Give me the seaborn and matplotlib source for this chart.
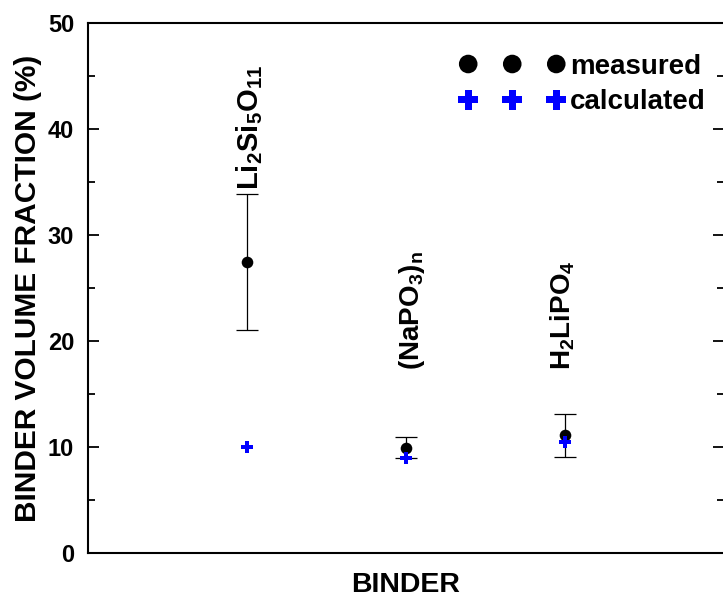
import numpy as np
import pandas as pd
import matplotlib
matplotlib.use("Agg")
import matplotlib.pyplot as plt
from matplotlib.ticker import MultipleLocator
import seaborn as sns

# Binder compounds and their volume fractions (%)
binders = ["Li$_2$Si$_5$O$_{11}$", "(NaPO$_3$)$_n$", "H$_2$LiPO$_4$"]
measured = [27.45, 9.93, 11.1]
measured_err = [6.45, 1.0, 2.0]
calculated = [10.0, 9.0, 10.5]

sns.set_theme(style="white")
plt.rcParams.update({
    "font.family": ["Liberation Sans", "DejaVu Sans"],
    "font.weight": "bold",
    "text.color": "black",
    "axes.labelcolor": "black",
    "xtick.color": "black",
    "ytick.color": "black",
    "mathtext.fontset": "custom",
    "mathtext.bf": "Liberation Sans:bold",
    "mathtext.rm": "Liberation Sans:bold",
    "mathtext.default": "bf",
})

pos = np.arange(1, len(binders) + 1)
df = pd.DataFrame({"pos": pos, "measured": measured, "err": measured_err,
                   "calculated": calculated})

fig = plt.figure(figsize=(7.23, 6.07), dpi=100)
ax = fig.add_axes([0.1217, 0.0890, 0.8797, 0.8731])

ax.errorbar(df["pos"], df["measured"], yerr=df["err"], fmt="none",
            ecolor="black", elinewidth=0.9, capsize=8, capthick=0.9, zorder=2)
sns.scatterplot(data=df, x="pos", y="measured", ax=ax, color="black",
                marker="o", s=70, linewidth=0, label="measured", zorder=3)
sns.scatterplot(data=df, x="pos", y="calculated", ax=ax, color=(0, 0, 1),
                marker="P", s=80, linewidth=0, label="calculated", zorder=4)

# compound names written vertically above each group
label_anchor = [(34.2, 3, 21), (17.3, 6, 20), (17.3, -2, 20)]
for x, name, (yb, dx, fs) in zip(pos, binders, label_anchor):
    ax.annotate(name, xy=(x, yb), xytext=(dx, 0), textcoords="offset pixels",
                rotation=90, ha="center", va="bottom",
                fontsize=fs, fontweight="bold")

ax.set_xlim(0, 4)
ax.set_ylim(0, 50)
ax.yaxis.set_major_locator(MultipleLocator(10))
ax.yaxis.set_minor_locator(MultipleLocator(5))
ax.set_xticks([])
ax.tick_params(axis="y", which="major", direction="in", length=8, width=1.3,
               left=True, right=True, labelsize=17, pad=10)
ax.tick_params(axis="y", which="minor", direction="in", length=5, width=1.3,
               left=True, right=True)
for lab in ax.get_yticklabels():
    lab.set_fontweight("bold")

for side in ["left", "right", "top", "bottom"]:
    ax.spines[side].set_visible(True)
    ax.spines[side].set_color("black")
    ax.spines[side].set_linewidth(1.5)

ax.set_xlabel("BINDER", fontsize=20.5, fontweight="bold", labelpad=14)
ax.set_ylabel("BINDER VOLUME FRACTION (%)", fontsize=21.5, fontweight="bold",
              labelpad=4)

leg = ax.legend(loc="upper right", scatterpoints=3, scatteryoffsets=[0.5],
                markerscale=1.6, frameon=False, fontsize=20,
                handletextpad=0.2, handlelength=3.77, labelspacing=0.35,
                borderaxespad=0, bbox_to_anchor=(0.989, 0.963))
for t in leg.get_texts():
    t.set_fontweight("bold")

fig.savefig("out.png", dpi=100)
